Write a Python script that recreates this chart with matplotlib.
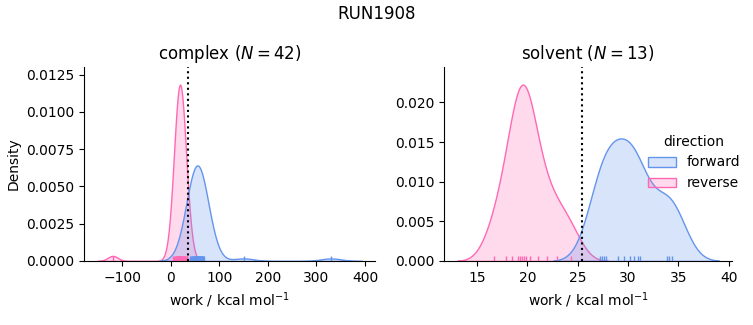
import numpy as np
import pandas as pd
import seaborn as sns
import matplotlib.pyplot as plt
from matplotlib.ticker import MultipleLocator

# work values (kcal/mol)
complex_forward = [40, 42, 43, 44, 45, 46, 46.5, 47, 48, 48.5, 49, 50, 50.5, 51,
                   52, 52.5, 53, 54, 54.5, 55, 56, 56.5, 57, 58, 58.5, 59, 60, 61,
                   61.5, 62, 63, 64, 65, 66, 67, 68, 53.5, 55.5, 57.5, 59.5,
                   150, 330]
complex_reverse = [4, 6.5, 8.5, 10, 11, 12, 13, 13.5, 14, 14.5, 15, 15.5, 16,
                   16.5, 17, 17.5, 18, 18.5, 19, 19.5, 20, 20.5, 21, 21.5, 22, 22.5,
                   23, 24, 25, 26, 27, 28, 29.5, 31, 32.5, 34, 14.8, 16.2, 17.8,
                   19.2, 20.8, -120]
solvent_forward = [27.2, 27.4, 27.6, 27.8, 29.0, 29.6, 30.2, 30.6, 31.0, 31.2,
                   33.9, 34.1, 34.4]
solvent_reverse = [16.7, 17.9, 18.5, 19.1, 19.3, 19.5, 19.7, 19.9, 20.3, 21.0,
                   21.9, 22.9, 24.3]

phases = ["complex", "solvent"]
free_energy = {"complex": 35.0, "solvent": 25.4}
run_name = "RUN1908"


def make_frame():
    rows = []
    for phase, fwd, rev in [("complex", complex_forward, complex_reverse),
                            ("solvent", solvent_forward, solvent_reverse)]:
        for w in fwd:
            rows.append((phase, "forward", w))
        for w in rev:
            rows.append((phase, "reverse", w))
    return pd.DataFrame(rows, columns=["phase", "direction", "work"])


def main():
    df = make_frame()
    g = sns.displot(df, x="work", hue="direction", col="phase", kind="kde",
                    fill=True, rug=True, col_order=phases,
                    hue_order=["forward", "reverse"],
                    palette={"forward": "cornflowerblue", "reverse": "hotpink"},
                    facet_kws=dict(sharex=False, sharey=False),
                    height=3.25, aspect=1.1)

    fig = g.figure
    fig.set_size_inches(7.53, 3.25)
    fig.set_dpi(100)

    positions = [[0.1116, 0.197, 0.387, 0.597], [0.5896, 0.197, 0.3825, 0.597]]
    for ax, phase, pos in zip(g.axes.flat, phases, positions):
        n = (df["phase"] == phase).sum() // 2
        ax.set_position(pos)
        ax.axvline(free_energy[phase], color="k", ls=":", lw=1.5)
        ax.set_title(f"{phase} ($N = {n}$)", fontsize=12)
        ax.set_xlabel("work / kcal mol$^{-1}$")
    g.axes.flat[0].xaxis.set_major_locator(MultipleLocator(100))
    g.axes.flat[1].xaxis.set_major_locator(MultipleLocator(5))
    g.axes.flat[0].set_ylabel("Density")

    fig.suptitle(run_name, fontsize=12, y=0.985)
    fig.savefig("out.png", dpi=100)


if __name__ == '__main__':
    main()
